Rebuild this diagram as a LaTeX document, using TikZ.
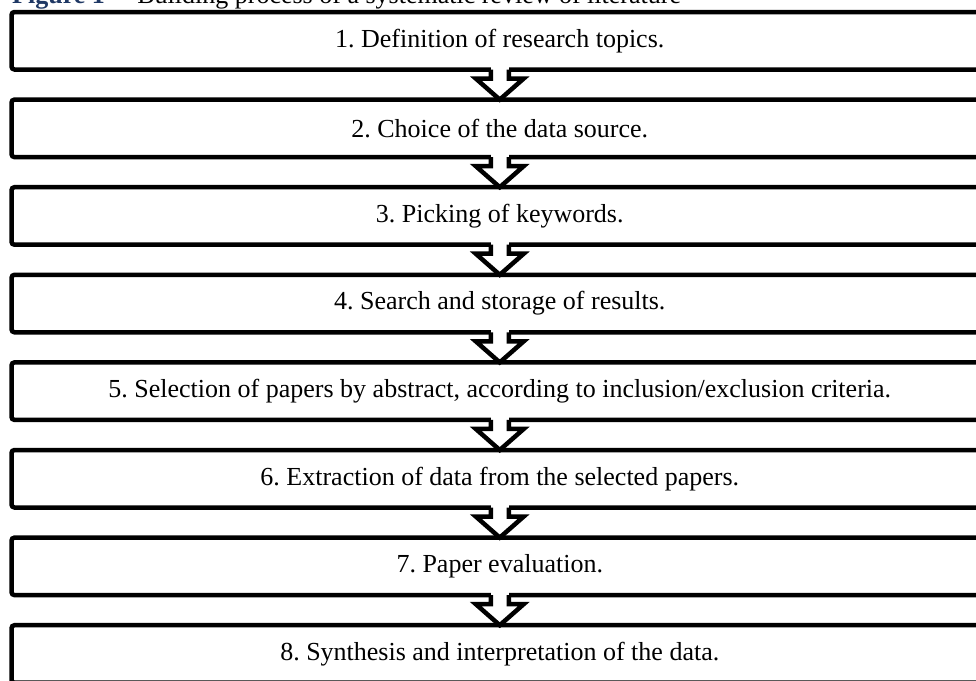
\documentclass[tikz,border=0pt]{standalone}
\usepackage{fontspec}
\setmainfont{Liberation Serif}
\usetikzlibrary{calc}
\definecolor{figblue}{RGB}{31,56,100}
\frenchspacing

\begin{document}
\begin{tikzpicture}[x=1pt,y=-1pt,
    stepbox/.style={draw,line width=4.5pt,rounded corners=3pt,minimum width=976.5pt,
      minimum height=57.5pt,inner sep=0pt,outer sep=0pt,font=\fontsize{26}{30}\selectfont},
    flowarrow/.style={line width=4.5pt,line join=miter,fill=white}]
  \useasboundingbox (0,0) rectangle (976,680);
  \clip (0,0) rectangle (976,680);
  % caption, cut off at the top
  \node[anchor=base west,inner sep=0pt,font=\fontsize{26}{30}\selectfont] (title) at (12,4)
    {\textcolor{figblue}{\textbf{Figure 1}}\ \ -- Building process of a systematic review of literature};
  % the eight steps
  \foreach \txt [count=\i] in {1. Definition of research topics.,
      2. Choice of the data source.,
      3. Picking of keywords.,
      4. Search and storage of results.,
      {5. Selection of papers by abstract, according to inclusion/exclusion criteria.},
      6. Extraction of data from the selected papers.,
      7. Paper evaluation.,
      8. Synthesis and interpretation of the data.}
    \node[stepbox] (s\i) at (499.75,40.75+87.6*\i-87.6) {\txt};
  % block arrows between steps
  \foreach \i [evaluate=\i as \j using int(\i+1)] in {1,...,7} {
    \fill[white] ($(s\i.south)+(-9,-3)$) rectangle ($(s\i.south)+(9,3)$);
    \draw[flowarrow] ($(s\i.south)+(-9,0)$) |- ($(s\i.south)+(-24,9)$) -- (s\j.north)
      -- ($(s\i.south)+(24,9)$) -| ($(s\i.south)+(9,0)$);
  }
\end{tikzpicture}
\end{document}
